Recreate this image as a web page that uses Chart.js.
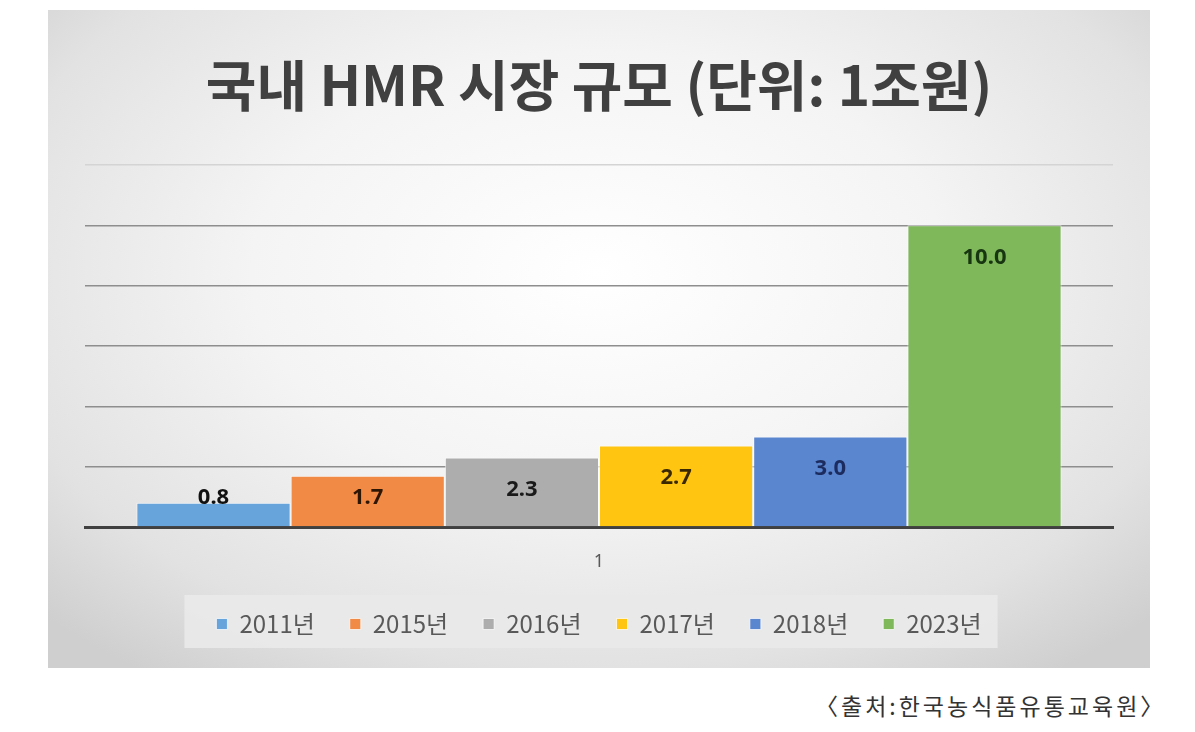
<!DOCTYPE html>
<html>
<head>
<meta charset="utf-8">
<script src="https://cdn.jsdelivr.net/npm/chart.js@4/dist/chart.umd.min.js"></script>
<style>
  html, body { margin: 0; padding: 0; background: #ffffff; width: 1195px; height: 732px; overflow: hidden; }
  #panel {
    position: absolute; left: 48px; top: 10px; width: 1102px; height: 658px;
    background: radial-gradient(ellipse 70% 75% at 50% 40%, #ffffff 0%, #f4f4f4 45%, #e2e2e2 80%, #cfcfcf 100%);
  }
  #wrap { position: absolute; left: 0; top: 0; width: 1102px; height: 658px; }
  #source {
    position: absolute; left: 815px; top: 688px; font-family: "Noto Sans CJK KR", sans-serif;
    font-size: 23px; color: #333333; white-space: nowrap; letter-spacing: 3px;
  }
</style>
</head>
<body>
<div id="panel"><div id="wrap"><canvas id="c"></canvas></div></div>
<div id="source">〈출처:한국농식품유통교육원〉</div>
<script>
const categories = ["1"];
const seriesNames = ["2011년", "2015년", "2016년", "2017년", "2018년", "2023년"];
const values2011 = [0.8];
const values2015 = [1.7];
const values2016 = [2.3];
const values2017 = [2.7];
const values2018 = [3.0];
const values2023 = [10.0];
const seriesValues = [values2011, values2015, values2016, values2017, values2018, values2023];
const barColors = ["#67A4DC", "#F08A45", "#ADADAD", "#FFC511", "#5A85CF", "#7FB85A"];
const labelColors = ["#111111", "#2e1605", "#1a1a1a", "#3a2800", "#1d2c5e", "#173510"];
const yMax = 12;
const yStep = 2;

const datasets = seriesNames.map((name, i) => ({
  label: name,
  data: seriesValues[i],
  backgroundColor: barColors[i],
  borderColor: "rgba(255,255,255,0.7)",
  borderWidth: 1,
  categoryPercentage: 0.9,
  barPercentage: 1.0
}));

const bgLegendPlugin = {
  id: "bgLegend",
  beforeDraw(chart) {
    const lg = chart.legend;
    if (!lg || !lg.legendHitBoxes || !lg.legendHitBoxes.length) return;
    const hb = lg.legendHitBoxes;
    const first = hb[0], last = hb[hb.length - 1];
    const cy = first.top + first.height / 2;
    const ctx = chart.ctx;
    ctx.save();
    ctx.fillStyle = "rgba(233,233,233,0.95)";
    const left = first.left - 32;
    const right = last.left + last.width + 16;
    ctx.fillRect(left, cy - 29, right - left, 53);
    ctx.restore();
  }
};

const valueLabelPlugin = {
  id: "valueLabels",
  afterDatasetsDraw(chart) {
    const ctx = chart.ctx;
    const base = chart.scales.y.getPixelForValue(0);
    ctx.save();
    ctx.font = "bold 22px 'Noto Sans', sans-serif";
    ctx.textAlign = "center";
    ctx.textBaseline = "middle";
    chart.data.datasets.forEach((ds, i) => {
      const meta = chart.getDatasetMeta(i);
      meta.data.forEach((bar, j) => {
        const y = Math.min(bar.y + 32, base - 29);
        ctx.fillStyle = labelColors[i];
        ctx.fillText(ds.data[j].toFixed(1), bar.x, y);
      });
    });
    ctx.restore();
  }
};

new Chart(document.getElementById("c"), {
  type: "bar",
  data: { labels: categories, datasets },
  options: {
    responsive: true,
    maintainAspectRatio: false,
    animation: false,
    layout: { padding: { left: 37, right: 37, top: 0, bottom: 22 } },
    plugins: {
      title: {
        display: true,
        text: "국내 HMR 시장 규모 (단위: 1조원)",
        color: "#404040",
        font: { family: "'Noto Sans CJK KR', sans-serif", size: 55, weight: "bold" },
        padding: { top: 42, bottom: 47 }
      },
      legend: {
        position: "bottom",
        labels: {
          color: "#595959",
          font: { family: "'Noto Sans CJK KR', sans-serif", size: 24 },
          boxWidth: 11,
          boxHeight: 11,
          padding: 35
        }
      },
      tooltip: { enabled: false }
    },
    scales: {
      x: {
        grid: { display: false, drawTicks: false },
        border: { display: true, color: "#404040", width: 3 },
        ticks: { color: "#595959", font: { family: "'Noto Sans', sans-serif", size: 18 }, padding: 24 },
        afterFit: (scale) => { scale.height = 50; }
      },
      y: {
        min: 0,
        max: yMax,
        ticks: { display: false, stepSize: yStep },
        border: { display: false },
        grid: {
          color: (ctx) => ctx.tick && ctx.tick.value === yMax ? "#d4d4d4" : "#8e8e8e",
          lineWidth: 1.5,
          drawTicks: false
        }
      }
    }
  },
  plugins: [bgLegendPlugin, valueLabelPlugin]
});
</script>
</body>
</html>
